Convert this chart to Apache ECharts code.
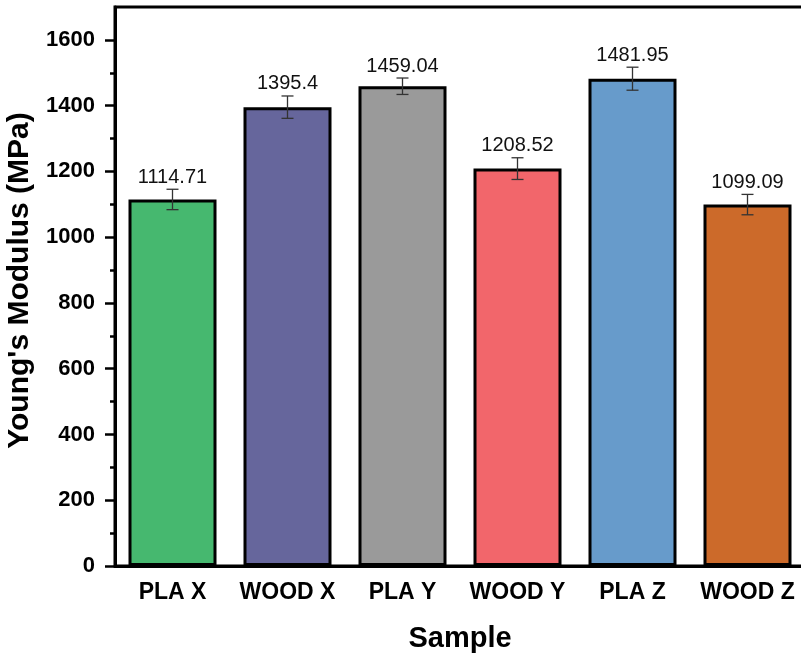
<!DOCTYPE html>
<html>
<head>
<meta charset="utf-8">
<script src="https://cdn.jsdelivr.net/npm/echarts@6/dist/echarts.min.js"></script>
<style>
  html, body { margin: 0; padding: 0; background: #fff; }
  #chart { width: 801px; height: 659px; }
</style>
</head>
<body>
<div id="chart"></div>
<script>
// Young's modulus per sample, with standard-deviation error bars
const categories = ['PLA X', 'WOOD X', 'PLA Y', 'WOOD Y', 'PLA Z', 'WOOD Z'];
const modulus = [1114.71, 1395.4, 1459.04, 1208.52, 1481.95, 1099.09];
const errors = [31, 34, 25, 33, 35, 31];
const barColors = ['#46b86f', '#66669c', '#9a9a9a', '#f2666b', '#679bcb', '#cc6a2a'];
const yMajorTicks = [0, 200, 400, 600, 800, 1000, 1200, 1400, 1600];
const yMinorTicks = [100, 300, 500, 700, 900, 1100, 1300, 1500];

const FONT = 'Arial, "Liberation Sans", sans-serif';

const chart = echarts.init(document.getElementById('chart'), null, { renderer: 'canvas' });

const errorData = modulus.map((v, i) => [i, v, errors[i]]);

chart.setOption({
  animation: false,
  backgroundColor: '#fff',
  grid: {
    // the plot frame runs slightly past the right edge of the canvas
    left: 115, top: 7, width: 690, height: 559,
    containLabel: false,
    outerBoundsMode: 'none',
    show: true, borderColor: '#000', borderWidth: 3, backgroundColor: 'transparent'
  },
  xAxis: [
    {
      type: 'category',
      data: categories,
      name: 'Sample',
      nameLocation: 'middle',
      nameGap: 58,
      nameTextStyle: { fontFamily: FONT, fontWeight: 'bold', fontSize: 29, color: '#000' },
      axisLine: { lineStyle: { color: '#000', width: 3 } },
      axisTick: { alignWithLabel: true, length: 10, lineStyle: { color: '#000', width: 2.5 } },
      axisLabel: { interval: 0, hideOverlap: false, fontFamily: FONT, fontWeight: 'bold', fontSize: 23, color: '#000', margin: 15 },
      splitLine: { show: false }
    },
    {
      // short ticks on category boundaries
      type: 'category',
      data: categories,
      position: 'bottom',
      axisLine: { show: false },
      axisTick: { alignWithLabel: false, interval: 0, length: 5, lineStyle: { color: '#000', width: 2.5 } },
      axisLabel: { show: false },
      splitLine: { show: false }
    }
  ],
  yAxis: [
    {
      type: 'value',
      min: 0, max: 1700,
      name: "Young's Modulus (MPa)",
      nameLocation: 'middle',
      nameGap: 64,
      nameTextStyle: { fontFamily: FONT, fontWeight: 'bold', fontSize: 30, color: '#000', padding: [0, 0, 0, 12] },
      axisLine: { show: true, lineStyle: { color: '#000', width: 3 } },
      axisTick: { show: true, length: 10, customValues: yMajorTicks, lineStyle: { color: '#000', width: 2.5 } },
      axisLabel: {
        customValues: yMajorTicks,
        formatter: (v) => String(v),
        fontFamily: FONT, fontWeight: 'bold', fontSize: 22, color: '#000', margin: 20
      },
      splitLine: { show: false }
    },
    {
      type: 'value',
      min: 0, max: 1700,
      position: 'left',
      axisLine: { show: false },
      axisTick: { show: true, length: 5, customValues: yMinorTicks, lineStyle: { color: '#000', width: 2.5 } },
      axisLabel: { show: false },
      splitLine: { show: false }
    }
  ],
  series: [
    {
      type: 'bar',
      data: modulus.map((v, i) => ({ value: v, itemStyle: { color: barColors[i] } })),
      barWidth: 88,
      itemStyle: { borderColor: '#000', borderWidth: 3 },
      z: 2
    },
    {
      type: 'custom',
      data: errorData,
      z: 5,
      renderItem: function (params, api) {
        const x = api.value(0);
        const v = api.value(1);
        const e = api.value(2);
        const top = api.coord([x, v + e]);
        const bot = api.coord([x, v - e]);
        const cap = 6;
        const style = { stroke: '#333', lineWidth: 1.3 };
        return {
          type: 'group',
          children: [
            { type: 'line', shape: { x1: top[0], y1: top[1], x2: bot[0], y2: bot[1] }, style },
            { type: 'line', shape: { x1: top[0] - cap, y1: top[1], x2: top[0] + cap, y2: top[1] }, style },
            { type: 'line', shape: { x1: bot[0] - cap, y1: bot[1], x2: bot[0] + cap, y2: bot[1] }, style },
            {
              type: 'text',
              style: {
                text: String(v),
                x: top[0], y: top[1] - 2,
                align: 'center', verticalAlign: 'bottom',
                font: '20px ' + FONT,
                fill: '#111'
              }
            }
          ]
        };
      }
    }
  ]
});
</script>
</body>
</html>
